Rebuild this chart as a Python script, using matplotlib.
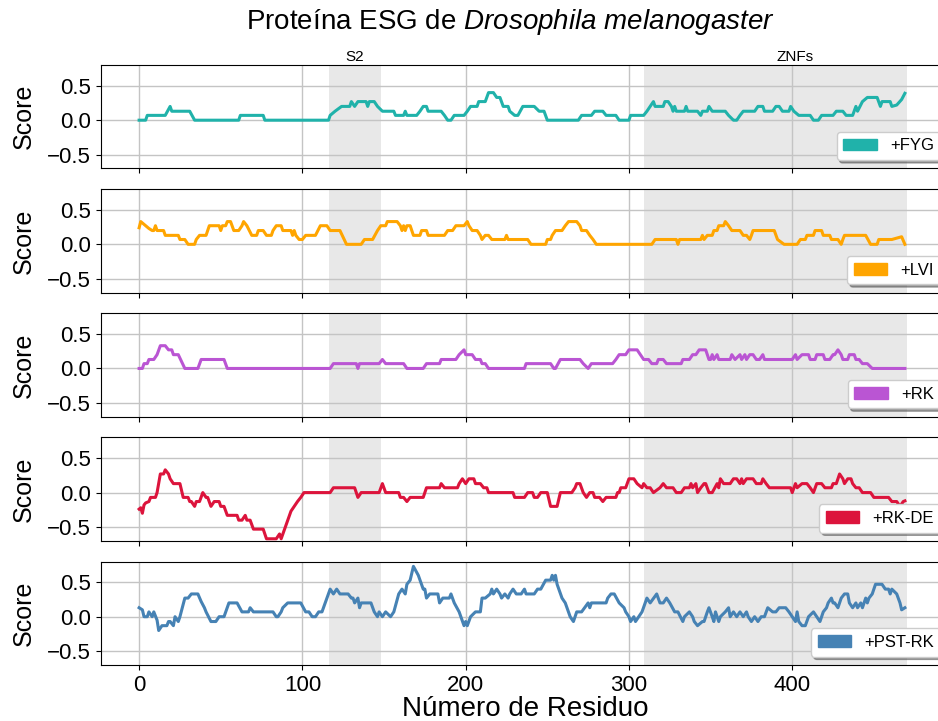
import matplotlib
matplotlib.use("Agg")
import matplotlib.pyplot as plt
from matplotlib.patches import Patch

plt.rcParams['font.family'] = ['Liberation Sans', 'DejaVu Sans']
plt.rcParams['mathtext.fontset'] = 'custom'
plt.rcParams['mathtext.it'] = 'Liberation Sans:italic'
plt.rcParams['mathtext.rm'] = 'Liberation Sans'

# (residue, score) vertices
fyg_pts = [(0,0),(4,0),(5,.07),(16,.07),(19,.2),(20,.13),(31,.13),(34,0),(61,0),(62,.07),(76,.07),(77,0),(116,0),(117,.07),(120,.13),(124,.2),(129,.2),(130,.27),(132,.2),(134,.27),(139,.27),(140,.2),(141,.27),(144,.27),(146,.2),(149,.13),(156,.13),(157,.07),(162,.07),(163,.13),(164,.07),(170,.07),(172,.13),(174,.2),(176,.2),(177,.13),(185,.13),(187,.07),(189,0),(191,0),(193,.07),(199,.07),(201,.13),(203,.2),(207,.2),(208,.27),(212,.27),(214,.4),(217,.4),(219,.33),(221,.33),(223,.2),(226,.2),(227,.13),(230,.07),(232,.07),(235,.2),(242,.2),(245,.13),(248,.13),(250,0),(269,0),(271,.07),(277,.07),(279,.13),(284,.13),(286,.07),(292,.07),(294,0),(300,0),(301,.07),(309,.07),(311,.13),(313,.2),(315,.27),(316,.2),(321,.2),(322,.27),(324,.27),(326,.2),(327,.13),(328,.2),(329,.13),(334,.13),(335,.2),(336,.13),(342,.13),(344,.07),(345,.13),(348,.13),(349,.2),(351,.13),(359,.13),(361,.07),(364,0),(366,0),(368,.07),(370,.13),(377,.13),(379,.2),(382,.2),(383,.13),(388,.13),(390,.2),(392,.2),(394,.13),(398,.13),(399,.2),(401,.13),(404,.07),(411,.07),(413,0),(416,0),(418,.07),(425,.07),(427,.13),(431,.13),(433,.07),(437,.07),(439,.2),(440,.13),(443,.27),(446,.33),(452,.33),(454,.2),(455,.27),(460,.27),(461,.2),(464,.22),(467,.3),(469,.39)]

lvi_pts = [(0,.24),(1,.33),(3,.29),(6,.23),(8,.2),(9,.2),(10,.27),(11,.2),(15,.2),(16,.13),(24,.13),(25,.07),(28,.07),(30,0),(34,0),(35,.07),(37,.13),(41,.13),(43,.27),(49,.27),(50,.2),(51,.27),(53,.27),(54,.33),(56,.33),(58,.2),(61,.2),(63,.27),(64,.33),(66,.27),(69,.13),(72,.13),(73,.2),(76,.2),(78,.13),(81,.13),(82,.2),(84,.27),(87,.27),(88,.2),(93,.2),(94,.13),(95,.2),(96,.13),(98,.07),(100,.07),(102,.13),(108,.13),(111,.27),(115,.27),(117,.2),(123,.2),(127,0),(136,0),(138,.07),(143,.07),(146,.2),(148,.27),(151,.27),(152,.33),(158,.33),(160,.27),(161,.2),(162,.27),(163,.2),(164,.27),(166,.27),(168,.13),(172,.13),(173,.2),(176,.2),(177,.13),(187,.13),(189,.2),(192,.2),(194,.27),(199,.27),(201,.33),(202,.27),(204,.2),(207,.2),(209,.13),(210,.07),(212,.13),(214,.13),(216,.07),(224,.07),(225,.13),(226,.07),(238,.07),(240,0),(249,0),(250,.07),(252,.07),(253,.13),(255,.2),(259,.2),(261,.27),(263,.33),(268,.33),(270,.27),(271,.2),(274,.2),(276,.13),(278,.07),(280,0),(314,0),(316,.07),(329,.07),(330,0),(331,.07),(344,.07),(345,.13),(346,.07),(348,.13),(351,.13),(352,.2),(354,.2),(355,.27),(358,.27),(359,.33),(361,.27),(363,.2),(368,.2),(370,.13),(372,.13),(374,.07),(375,.13),(376,.2),(389,.2),(391,.07),(395,0),(403,0),(405,.07),(408,.07),(409,.13),(413,.13),(414,.2),(418,.2),(419,.13),(423,.13),(424,.07),(428,.07),(430,0),(431,.07),(432,.13),(445,.13),(448,0),(452,0),(453,.07),(461,.07),(467,.11),(469,0)]

rk_pts = [(0,0),(2,0),(3,.07),(5,.07),(6,.13),(9,.13),(11,.2),(13,.33),(16,.33),(18,.27),(20,.27),(21,.2),(24,.2),(28,0),(36,0),(38,.13),(52,.13),(54,0),(117,0),(119,.07),(133,.07),(134,0),(135,.07),(147,.07),(149,.13),(151,.07),(162,.07),(164,0),(174,0),(176,.07),(184,.07),(185,.13),(194,.13),(196,.2),(199,.27),(200,.2),(204,.2),(206,.13),(209,.13),(210,.07),(212,.07),(214,0),(236,0),(237,.07),(252,.07),(254,0),(255,0),(258,.13),(270,.13),(272,.07),(275,0),(277,.07),(290,.07),(292,.13),(294,.2),(298,.2),(300,.27),(305,.27),(307,.2),(309,.13),(312,.13),(314,.07),(317,.07),(318,.13),(321,.13),(323,.07),(332,.07),(333,.13),(337,.13),(339,.2),(341,.2),(343,.27),(347,.27),(349,.13),(350,.13),(351,.2),(352,.13),(354,.2),(355,.13),(362,.13),(363,.2),(365,.13),(368,.2),(369,.13),(371,.2),(372,.13),(374,.2),(376,.2),(378,.13),(380,.13),(382,.2),(383,.13),(400,.13),(402,.2),(403,.13),(406,.2),(410,.2),(411,.13),(414,.13),(415,.2),(419,.2),(420,.13),(423,.13),(425,.2),(426,.2),(428,.27),(430,.2),(431,.13),(434,.13),(435,.2),(438,.2),(439,.13),(441,.13),(443,.07),(446,.07),(449,0),(469,0)]

rkde_pts = [(0,-.24),(1,-.22),(2,-.3),(3,-.18),(4,-.15),(6,-.13),(7,-.07),(10,-.07),(11,0),(13,.27),(15,.27),(16,.33),(18,.27),(19,.2),(21,.13),(25,.13),(27,-.07),(30,-.07),(31,-.13),(32,-.13),(34,-.2),(35,-.13),(37,-.13),(39,0),(41,-.07),(42,-.07),(44,-.2),(46,-.13),(49,-.13),(50,-.2),(52,-.2),(54,-.33),(60,-.33),(61,-.4),(63,-.4),(65,-.33),(66,-.4),(68,-.4),(70,-.53),(76,-.53),(78,-.67),(84,-.67),(86,-.6),(87,-.67),(93,-.27),(95,-.2),(97,-.13),(99,-.07),(101,0),(117,0),(119,.07),(132,.07),(134,-.07),(136,0),(147,0),(149,.13),(151,0),(159,0),(160,-.07),(162,-.07),(164,-.13),(166,-.07),(174,-.07),(176,.07),(184,.07),(185,.13),(187,.07),(195,.07),(196,.13),(198,.2),(200,.13),(202,.2),(205,.2),(206,.13),(209,.13),(211,.07),(213,.07),(214,0),(229,0),(230,-.07),(236,-.07),(238,0),(241,0),(242,-.07),(244,-.07),(246,0),(250,0),(252,-.2),(256,-.2),(258,0),(265,0),(267,.07),(268,.13),(270,.13),(272,0),(274,-.07),(276,0),(278,0),(279,-.07),(282,-.07),(284,-.13),(286,-.07),(292,-.07),(293,0),(294,0),(295,.07),(298,.07),(300,.2),(303,.2),(305,.13),(308,.07),(309,.13),(311,.07),(313,.07),(315,0),(319,.07),(321,.13),(323,.07),(327,.07),(329,0),(332,0),(334,.07),(337,.07),(338,.13),(339,.07),(341,.13),(342,0),(344,.07),(346,.13),(347,.13),(349,0),(351,0),(354,.13),(355,.07),(356,.2),(358,.13),(362,.13),(364,.2),(366,.2),(368,.13),(369,.2),(370,.13),(372,.2),(376,.2),(378,.13),(381,.13),(382,.2),(384,.13),(386,.07),(399,.07),(400,0),(402,.13),(403,.07),(406,.13),(409,.13),(411,.07),(413,0),(415,.13),(418,.13),(420,.07),(424,.07),(425,.13),(427,.13),(429,.27),(431,.2),(432,.13),(434,.2),(436,.2),(437,.13),(439,.07),(441,.07),(443,0),(448,0),(450,-.07),(459,-.07),(461,-.13),(464,-.13),(466,-.2),(468,-.13),(469,-.12)]

pstrk_pts = [(0,.13),(2,.1),(3,0),(5,0),(6,.07),(8,0),(9,.07),(11,-.05),(12,-.2),(14,-.13),(17,-.13),(18,-.07),(19,-.07),(21,-.13),(22,0),(24,-.07),(25,0),(28,.27),(30,.27),(32,.33),(36,.33),(38,.22),(40,.13),(41,.07),(44,-.07),(47,-.07),(49,0),(52,0),(55,.2),(60,.2),(63,.07),(67,.07),(68,.13),(70,.07),(82,.07),(84,0),(85,0),(87,.07),(88,.13),(91,.2),(99,.2),(102,.07),(104,.07),(106,0),(108,0),(110,.07),(112,.07),(115,.27),(117,.4),(119,.33),(121,.4),(123,.33),(128,.33),(130,.27),(131,.27),(132,.2),(134,.27),(135,.13),(136,.2),(142,.2),(144,.07),(146,0),(147,.07),(149,0),(151,.07),(154,0),(156,.07),(159,.33),(161,.4),(163,.33),(164,.47),(166,.53),(168,.73),(171,.6),(174,.4),(175,.4),(176,.27),(178,.33),(183,.33),(184,.2),(186,.27),(190,.27),(191,.33),(193,.2),(196,.07),(199,-.13),(200,-.07),(201,-.13),(203,0),(206,.07),(209,.07),(210,.27),(212,.27),(215,.33),(216,.4),(217,.33),(219,.4),(221,.33),(222,.27),(224,.33),(226,.27),(227,.33),(229,.4),(231,.33),(234,.33),(236,.4),(237,.33),(242,.33),(244,.4),(246,.4),(249,.53),(252,.53),(253,.6),(254,.53),(255,.6),(256,.47),(259,.27),(261,.2),(264,0),(266,-.07),(268,.07),(271,.07),(275,.2),(276,.13),(277,.2),(286,.2),(287,.27),(289,.33),(291,.33),(294,.2),(297,.13),(298,.07),(300,0),(301,-.07),(303,0),(304,-.07),(306,0),(308,.07),(311,.27),(313,.2),(317,.33),(319,.2),(321,.2),(323,.27),(325,.2),(328,.07),(330,.07),(333,-.07),(334,0),(337,.07),(339,0),(340,-.07),(342,-.13),(345,-.07),(346,-.07),(348,.07),(349,.13),(351,0),(352,-.07),(353,.07),(355,-.07),(356,0),(359,.07),(361,.13),(362,0),(364,.07),(366,0),(368,.07),(370,0),(372,.07),(373,0),(375,-.07),(377,0),(379,-.07),(381,0),(383,0),(385,.13),(388,.07),(390,.07),(392,.13),(396,.13),(398,.07),(400,0),(402,-.07),(403,.07),(404,-.07),(406,-.13),(408,-.13),(410,0),(413,.07),(415,0),(417,-.07),(419,.07),(421,.13),(422,.2),(424,.27),(425,.2),(426,.2),(428,.13),(430,.27),(432,.33),(434,.33),(435,.2),(437,.13),(439,.2),(440,.13),(442,.2),(443,.13),(445,.27),(446,.2),(447,.27),(449,.33),(451,.47),(455,.47),(457,.4),(459,.4),(460,.33),(461,.4),(464,.33),(466,.2),(467,.1),(469,.13)]

labels = ['+FYG', '+LVI', '+RK', '+RK-DE', '+PST-RK']
colors = ['lightseagreen', 'orange', 'mediumorchid', 'crimson', 'steelblue']
series = [fyg_pts, lvi_pts, rk_pts, rkde_pts, pstrk_pts]

domains = [('S2', 116, 148, 132), ('ZNFs', 309, 470, 402)]

fig, axes = plt.subplots(5, 1, figsize=(9.38, 7.21), dpi=100, sharex=True, sharey=True)
fig.subplots_adjust(left=0.1074, right=1.0117, bottom=0.0777, top=0.9098, hspace=0.2)

for ax, pts, lab, col in zip(axes, series, labels, colors):
    xs = [p[0] for p in pts]
    ys = [p[1] for p in pts]
    for name, a, b, mid in domains:
        ax.axvspan(a, b, color='lightgray', alpha=0.5, lw=0)
    ax.plot(xs, ys, color=col, lw=2.2)
    ax.grid(True, color='#c4c4c4', lw=1)
    ax.set_ylabel('Score', fontsize=18, labelpad=8)
    ax.tick_params(labelsize=16)
    ax.legend(handles=[Patch(color=col, label=lab)], loc='lower right',
              shadow=True, fontsize=12)

for name, a, b, mid in domains:
    axes[0].annotate(name, xy=(mid, 1.01), xycoords=('data', 'axes fraction'),
                     ha='center', va='bottom', fontsize=11)

axes[0].set_ylim(-0.7, 0.8)
axes[0].set_yticks([-0.5, 0.0, 0.5])
axes[0].set_xlim(-23.5, 496)
axes[-1].set_xticks([0, 100, 200, 300, 400])
axes[-1].set_xlabel('Número de Residuo', fontsize=20, labelpad=0)
fig.suptitle(r'Proteína ESG de $\it{Drosophila\ melanogaster}$', fontsize=20, x=0.544, y=0.99)

plt.savefig('out.png', dpi=100)
